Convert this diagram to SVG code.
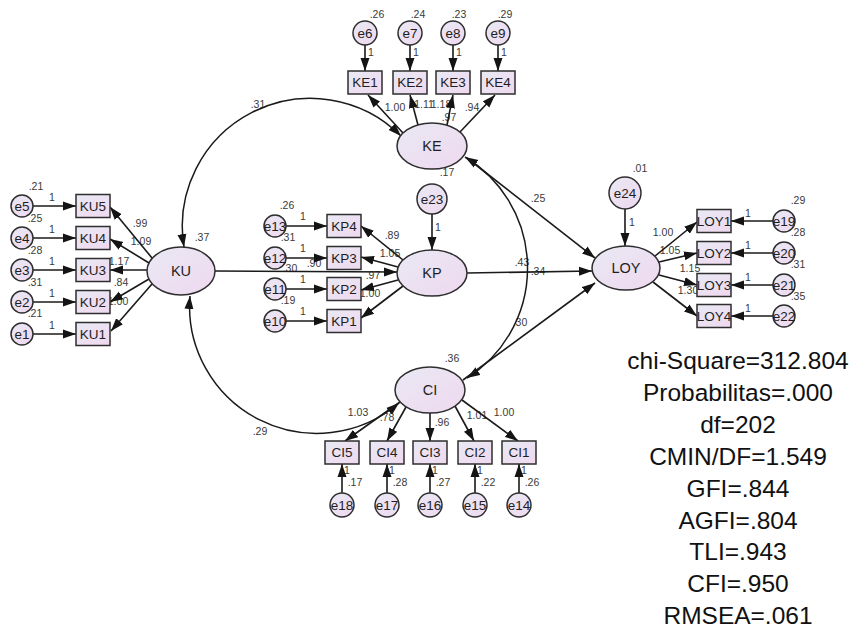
<svg xmlns="http://www.w3.org/2000/svg" width="853" height="629" viewBox="0 0 853 629">
  <defs>
    <linearGradient id="nodeFill" x1="0" y1="0" x2="1" y2="1">
      <stop offset="0" stop-color="#e9e9f4"/>
      <stop offset="1" stop-color="#efd8ef"/>
    </linearGradient>
    <marker id="arrow" markerUnits="userSpaceOnUse" markerWidth="14" markerHeight="10" refX="13" refY="5" orient="auto-start-reverse">
      <path d="M0,0.5 L13,5 L0,9.5 z" fill="#141414"/>
    </marker>
    <style>
      .node { fill: url(#nodeFill); stroke: #2e2e2e; stroke-width: 1.5; }
      .lbl { font-family: "Liberation Sans", Arial, sans-serif; font-size: 13.5px; fill: #1e1e1e; text-anchor: middle; }
      .big { font-size: 14.5px; }
      .est { font-family: "Liberation Sans", Arial, sans-serif; font-size: 10.5px; fill: #3a3a3a; text-anchor: middle; }
      .fit { font-family: "Liberation Sans", Arial, sans-serif; font-size: 24.5px; fill: #111; text-anchor: middle; }
      .path { fill: none; stroke: #1a1a1a; stroke-width: 1.6; marker-end: url(#arrow); }
      .cov { fill: none; stroke: #1a1a1a; stroke-width: 1.5; marker-start: url(#arrow); marker-end: url(#arrow); }
    </style>
  </defs>
  <rect width="853" height="629" fill="#ffffff"/>

  <!-- parameter estimates -->
  <g id="estimates">
    <!-- KE block -->
    <text class="est" x="377" y="18">.26</text>
    <text class="est" x="418" y="18">.24</text>
    <text class="est" x="459" y="18">.23</text>
    <text class="est" x="505" y="18">.29</text>
    <text class="est" x="371" y="56">1</text>
    <text class="est" x="416" y="56">1</text>
    <text class="est" x="459" y="56">1</text>
    <text class="est" x="504" y="56">1</text>
    <text class="est" x="395" y="111">1.00</text>
    <text class="est" x="424" y="108">1.11</text>
    <text class="est" x="441" y="108">1.18</text>
    <text class="est" x="449" y="121">.97</text>
    <text class="est" x="472" y="111">.94</text>
    <text class="est" x="258" y="108">.31</text>
    <!-- KU block -->
    <text class="est" x="36" y="190">.21</text>
    <text class="est" x="35" y="222">.25</text>
    <text class="est" x="35" y="254">.28</text>
    <text class="est" x="35" y="286">.31</text>
    <text class="est" x="35" y="317">.21</text>
    <text class="est" x="52" y="201">1</text>
    <text class="est" x="52" y="233">1</text>
    <text class="est" x="52" y="265">1</text>
    <text class="est" x="52" y="297">1</text>
    <text class="est" x="52" y="329">1</text>
    <text class="est" x="140" y="227">.99</text>
    <text class="est" x="141" y="245">1.09</text>
    <text class="est" x="119" y="265">1.17</text>
    <text class="est" x="121" y="286">.84</text>
    <text class="est" x="118" y="305">1.00</text>
    <text class="est" x="202" y="241">.37</text>
    <!-- KP block -->
    <text class="est" x="287" y="209">.26</text>
    <text class="est" x="288" y="241">.31</text>
    <text class="est" x="290" y="272">.30</text>
    <text class="est" x="288" y="304">.19</text>
    <text class="est" x="303" y="220">1</text>
    <text class="est" x="303" y="252">1</text>
    <text class="est" x="303" y="283">1</text>
    <text class="est" x="303" y="315">1</text>
    <text class="est" x="314" y="267">.90</text>
    <text class="est" x="392" y="239">.89</text>
    <text class="est" x="390" y="257">1.05</text>
    <text class="est" x="373" y="279">.97</text>
    <text class="est" x="370" y="297">1.00</text>
    <text class="est" x="438" y="231">1</text>
    <text class="est" x="447" y="176">.17</text>
    <!-- structural paths -->
    <text class="est" x="538" y="202">.25</text>
    <text class="est" x="522" y="266">.43</text>
    <text class="est" x="538" y="275">.34</text>
    <text class="est" x="520" y="326">.30</text>
    <!-- LOY block -->
    <text class="est" x="640" y="172">.01</text>
    <text class="est" x="632" y="226">1</text>
    <text class="est" x="663" y="236">1.00</text>
    <text class="est" x="670" y="254">1.05</text>
    <text class="est" x="690" y="272">1.15</text>
    <text class="est" x="688" y="294">1.30</text>
    <text class="est" x="798" y="204">.29</text>
    <text class="est" x="798" y="236">.28</text>
    <text class="est" x="798" y="268">.31</text>
    <text class="est" x="798" y="300">.35</text>
    <text class="est" x="748" y="217">1</text>
    <text class="est" x="748" y="249">1</text>
    <text class="est" x="748" y="281">1</text>
    <text class="est" x="748" y="312">1</text>
    <!-- CI block -->
    <text class="est" x="452" y="362">.36</text>
    <text class="est" x="358" y="416">1.03</text>
    <text class="est" x="387" y="421">.78</text>
    <text class="est" x="442" y="426">.96</text>
    <text class="est" x="477" y="419">1.01</text>
    <text class="est" x="504" y="416">1.00</text>
    <text class="est" x="260" y="435">.29</text>
    <text class="est" x="347" y="474">1</text>
    <text class="est" x="392" y="474">1</text>
    <text class="est" x="435" y="474">1</text>
    <text class="est" x="480" y="474">1</text>
    <text class="est" x="524" y="474">1</text>
    <text class="est" x="355" y="486">.17</text>
    <text class="est" x="400" y="486">.28</text>
    <text class="est" x="443" y="486">.27</text>
    <text class="est" x="488" y="486">.22</text>
    <text class="est" x="532" y="486">.26</text>
  </g>

  <!-- connectors -->
  <g id="connectors">
    <!-- covariances -->
    <path class="cov" d="M184 247 A128 128 0 0 1 401 136"/>
    <path class="cov" d="M190 296 A127 127 0 0 0 399 403"/>
    <path class="cov" d="M465 157 A130 130 0 0 1 467 378"/>
    <!-- structural regressions -->
    <path class="path" d="M215 271 L397 272"/>
    <path class="path" d="M467 158 L595 258"/>
    <path class="path" d="M467 273 L592 271"/>
    <path class="path" d="M463 380 L595 283"/>
    <!-- KE loadings and errors -->
    <path class="path" d="M403 133 L368 95"/>
    <path class="path" d="M418 125 L410 95"/>
    <path class="path" d="M447 125 L453 95"/>
    <path class="path" d="M460 132 L495 95"/>
    <path class="path" d="M365 45 L365 71"/>
    <path class="path" d="M410 45 L410 71"/>
    <path class="path" d="M453 45 L453 71"/>
    <path class="path" d="M498 45 L498 71"/>
    <!-- KU loadings and errors -->
    <path class="path" d="M152 258 L110 207"/>
    <path class="path" d="M149 263 L110 239"/>
    <path class="path" d="M147 270 L110 270"/>
    <path class="path" d="M149 279 L110 302"/>
    <path class="path" d="M152 284 L111 331"/>
    <path class="path" d="M33 206 L76 206"/>
    <path class="path" d="M33 238 L76 238"/>
    <path class="path" d="M33 270 L76 270"/>
    <path class="path" d="M33 302 L76 302"/>
    <path class="path" d="M33 334 L76 334"/>
    <!-- KP loadings and errors -->
    <path class="path" d="M403 260 L361 226"/>
    <path class="path" d="M398 267 L361 257"/>
    <path class="path" d="M398 280 L361 290"/>
    <path class="path" d="M403 286 L361 318"/>
    <path class="path" d="M286 226 L327 226"/>
    <path class="path" d="M286 258 L327 258"/>
    <path class="path" d="M286 289 L327 289"/>
    <path class="path" d="M286 321 L327 321"/>
    <path class="path" d="M432 214 L432 250"/>
    <!-- LOY loadings and errors -->
    <path class="path" d="M625 209 L625 246"/>
    <path class="path" d="M655 256 L697 222"/>
    <path class="path" d="M659 262 L697 253"/>
    <path class="path" d="M659 275 L697 285"/>
    <path class="path" d="M653 282 L697 316"/>
    <path class="path" d="M773 221 L731 221"/>
    <path class="path" d="M773 253 L731 253"/>
    <path class="path" d="M773 285 L731 285"/>
    <path class="path" d="M773 316 L731 316"/>
    <!-- CI loadings and errors -->
    <path class="path" d="M400 402 L345 441"/>
    <path class="path" d="M406 407 L387 441"/>
    <path class="path" d="M430 413 L430 441"/>
    <path class="path" d="M455 406 L474 441"/>
    <path class="path" d="M462 400 L518 441"/>
    <path class="path" d="M342 493 L342 464"/>
    <path class="path" d="M387 493 L387 464"/>
    <path class="path" d="M430 493 L430 464"/>
    <path class="path" d="M475 493 L475 464"/>
    <path class="path" d="M519 493 L519 464"/>
  </g>

  <!-- latent variables -->
  <g id="KE"><ellipse class="node" cx="432" cy="146" rx="35" ry="23"/><text class="lbl big" x="432" y="151">KE</text></g>
  <g id="KU"><ellipse class="node" cx="181" cy="271" rx="34" ry="24"/><text class="lbl big" x="181" y="276">KU</text></g>
  <g id="KP"><ellipse class="node" cx="432" cy="273" rx="35" ry="23"/><text class="lbl big" x="432" y="278">KP</text></g>
  <g id="LOY"><ellipse class="node" cx="626" cy="268" rx="34" ry="22"/><text class="lbl big" x="626" y="273">LOY</text></g>
  <g id="CI"><ellipse class="node" cx="430" cy="390" rx="35" ry="23"/><text class="lbl big" x="430" y="395">CI</text></g>

  <!-- KE indicators -->
  <g id="KE1"><rect class="node" x="348" y="71" width="34" height="23"/><text class="lbl" x="365" y="87">KE1</text></g>
  <g id="KE2"><rect class="node" x="393" y="71" width="34" height="23"/><text class="lbl" x="410" y="87">KE2</text></g>
  <g id="KE3"><rect class="node" x="436" y="71" width="34" height="23"/><text class="lbl" x="453" y="87">KE3</text></g>
  <g id="KE4"><rect class="node" x="481" y="71" width="34" height="23"/><text class="lbl" x="498" y="87">KE4</text></g>
  <g id="e6"><circle class="node" cx="365" cy="33" r="12"/><text class="lbl" x="365" y="38">e6</text></g>
  <g id="e7"><circle class="node" cx="410" cy="33" r="12"/><text class="lbl" x="410" y="38">e7</text></g>
  <g id="e8"><circle class="node" cx="453" cy="33" r="12"/><text class="lbl" x="453" y="38">e8</text></g>
  <g id="e9"><circle class="node" cx="498" cy="33" r="12"/><text class="lbl" x="498" y="38">e9</text></g>

  <!-- KU indicators -->
  <g id="KU5"><rect class="node" x="76" y="194.5" width="34" height="23"/><text class="lbl" x="93" y="210.5">KU5</text></g>
  <g id="KU4"><rect class="node" x="76" y="226.5" width="34" height="23"/><text class="lbl" x="93" y="242.5">KU4</text></g>
  <g id="KU3"><rect class="node" x="76" y="258.5" width="34" height="23"/><text class="lbl" x="93" y="274.5">KU3</text></g>
  <g id="KU2"><rect class="node" x="76" y="290.5" width="34" height="23"/><text class="lbl" x="93" y="306.5">KU2</text></g>
  <g id="KU1"><rect class="node" x="76" y="322.5" width="34" height="23"/><text class="lbl" x="93" y="338.5">KU1</text></g>
  <g id="e5"><circle class="node" cx="22" cy="206" r="11"/><text class="lbl" x="22" y="211">e5</text></g>
  <g id="e4"><circle class="node" cx="22" cy="238" r="11"/><text class="lbl" x="22" y="243">e4</text></g>
  <g id="e3"><circle class="node" cx="22" cy="270" r="11"/><text class="lbl" x="22" y="275">e3</text></g>
  <g id="e2"><circle class="node" cx="22" cy="302" r="11"/><text class="lbl" x="22" y="307">e2</text></g>
  <g id="e1"><circle class="node" cx="22" cy="334" r="11"/><text class="lbl" x="22" y="339">e1</text></g>

  <!-- KP indicators -->
  <g id="KP4"><rect class="node" x="327" y="214.5" width="34" height="23"/><text class="lbl" x="344" y="230.5">KP4</text></g>
  <g id="KP3"><rect class="node" x="327" y="246.5" width="34" height="23"/><text class="lbl" x="344" y="262.5">KP3</text></g>
  <g id="KP2"><rect class="node" x="327" y="277.5" width="34" height="23"/><text class="lbl" x="344" y="293.5">KP2</text></g>
  <g id="KP1"><rect class="node" x="327" y="309.5" width="34" height="23"/><text class="lbl" x="344" y="325.5">KP1</text></g>
  <g id="e13"><circle class="node" cx="275" cy="226" r="11"/><text class="lbl" x="275" y="231">e13</text></g>
  <g id="e12"><circle class="node" cx="275" cy="258" r="11"/><text class="lbl" x="275" y="263">e12</text></g>
  <g id="e11"><circle class="node" cx="275" cy="289" r="11"/><text class="lbl" x="275" y="294">e11</text></g>
  <g id="e10"><circle class="node" cx="275" cy="321" r="11"/><text class="lbl" x="275" y="326">e10</text></g>
  <g id="e23"><circle class="node" cx="432" cy="199" r="15"/><text class="lbl" x="432" y="204">e23</text></g>

  <!-- LOY indicators -->
  <g id="LOY1"><rect class="node" x="697" y="209.5" width="34" height="23"/><text class="lbl" x="714" y="225.5">LOY1</text></g>
  <g id="LOY2"><rect class="node" x="697" y="241.5" width="34" height="23"/><text class="lbl" x="714" y="257.5">LOY2</text></g>
  <g id="LOY3"><rect class="node" x="697" y="273.5" width="34" height="23"/><text class="lbl" x="714" y="289.5">LOY3</text></g>
  <g id="LOY4"><rect class="node" x="697" y="304.5" width="34" height="23"/><text class="lbl" x="714" y="320.5">LOY4</text></g>
  <g id="e19"><circle class="node" cx="784" cy="221" r="11"/><text class="lbl" x="784" y="226">e19</text></g>
  <g id="e20"><circle class="node" cx="784" cy="253" r="11"/><text class="lbl" x="784" y="258">e20</text></g>
  <g id="e21"><circle class="node" cx="784" cy="285" r="11"/><text class="lbl" x="784" y="290">e21</text></g>
  <g id="e22"><circle class="node" cx="784" cy="316" r="11"/><text class="lbl" x="784" y="321">e22</text></g>
  <g id="e24"><circle class="node" cx="625" cy="193" r="16"/><text class="lbl" x="625" y="198">e24</text></g>

  <!-- CI indicators -->
  <g id="CI5"><rect class="node" x="325" y="441" width="34" height="23"/><text class="lbl" x="342" y="457">CI5</text></g>
  <g id="CI4"><rect class="node" x="370" y="441" width="34" height="23"/><text class="lbl" x="387" y="457">CI4</text></g>
  <g id="CI3"><rect class="node" x="413" y="441" width="34" height="23"/><text class="lbl" x="430" y="457">CI3</text></g>
  <g id="CI2"><rect class="node" x="458" y="441" width="34" height="23"/><text class="lbl" x="475" y="457">CI2</text></g>
  <g id="CI1"><rect class="node" x="502" y="441" width="34" height="23"/><text class="lbl" x="519" y="457">CI1</text></g>
  <g id="e18"><circle class="node" cx="342" cy="505" r="12"/><text class="lbl" x="342" y="510">e18</text></g>
  <g id="e17"><circle class="node" cx="387" cy="505" r="12"/><text class="lbl" x="387" y="510">e17</text></g>
  <g id="e16"><circle class="node" cx="430" cy="505" r="12"/><text class="lbl" x="430" y="510">e16</text></g>
  <g id="e15"><circle class="node" cx="475" cy="505" r="12"/><text class="lbl" x="475" y="510">e15</text></g>
  <g id="e14"><circle class="node" cx="519" cy="505" r="12"/><text class="lbl" x="519" y="510">e14</text></g>

  <!-- model fit summary -->
  <g id="fit-indices">
    <text class="fit" x="738" y="369">chi-Square=312.804</text>
    <text class="fit" x="738" y="401">Probabilitas=.000</text>
    <text class="fit" x="738" y="433">df=202</text>
    <text class="fit" x="738" y="465">CMIN/DF=1.549</text>
    <text class="fit" x="738" y="497">GFI=.844</text>
    <text class="fit" x="738" y="529">AGFI=.804</text>
    <text class="fit" x="738" y="560">TLI=.943</text>
    <text class="fit" x="738" y="592">CFI=.950</text>
    <text class="fit" x="738" y="624">RMSEA=.061</text>
  </g>
</svg>
